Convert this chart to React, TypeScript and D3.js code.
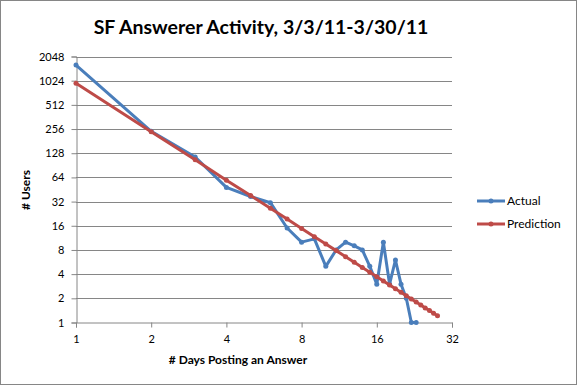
import { useEffect, useRef } from "react"
import * as d3 from "d3"

// days posting an answer
const actualDays = [1, 2, 3, 4, 5, 6, 7, 8, 9, 10, 11, 12, 13, 14, 15, 16, 17, 18, 19, 20, 21, 22, 23]
const actualUsers = [1600, 240, 115, 48, 37, 31, 15, 10, 11, 5, 8, 10, 9, 8, 5, 3, 10, 3, 6, 3, 2, 1, 1]

const predictionDays = [1, 2, 3, 4, 5, 6, 7, 8, 9, 10, 11, 12, 13, 14, 15, 16, 17, 18, 19, 20, 21, 22, 23, 24, 25, 26, 27, 28]
const predictionUsers = [
  950, 237, 106, 59, 38, 26.4, 19.4, 14.8, 11.7, 9.5, 7.85, 6.6, 5.62, 4.85,
  4.22, 3.71, 3.29, 2.93, 2.63, 2.38, 2.15, 1.96, 1.8, 1.65, 1.52, 1.41, 1.3, 1.21,
]

const xTicks = [1, 2, 4, 8, 16, 32]
const yTicks = [1, 2, 4, 8, 16, 32, 64, 128, 256, 512, 1024, 2048]

const title = "SF Answerer Activity, 3/3/11-3/30/11"
const xTitle = "# Days Posting an Answer"
const yTitle = "# Users"
const seriesNames = ["Actual", "Prediction"]
const seriesColors = ["#4a7ebb", "#be4b48"]

export default function App() {
  const svgRef = useRef<SVGSVGElement>(null)
  const width = 577
  const height = 385

  useEffect(() => {
    if (!svgRef.current) return
    const svg = d3.select(svgRef.current)
    svg.selectAll("*").remove()

    const font = "Lato, 'Open Sans', sans-serif"
    const x = d3.scaleLog().base(2).domain([1, 32]).range([76, 452])
    const y = d3.scaleLog().base(2).domain([1, 2048]).range([322.5, 56.5])

    // outer border
    svg.append("rect")
      .attr("x", 0.5).attr("y", 0.5)
      .attr("width", width - 1).attr("height", height - 1)
      .attr("fill", "#fff").attr("stroke", "#868686")

    svg.append("text")
      .attr("x", 261).attr("y", 34)
      .attr("text-anchor", "middle")
      .attr("font-family", font).attr("font-weight", "bold").attr("font-size", 19.5)
      .text(title)

    // gridlines
    svg.append("g").selectAll("line")
      .data(yTicks.slice(1))
      .enter().append("line")
      .attr("x1", x(1)).attr("x2", x(32))
      .attr("y1", (d: number) => Math.round(y(d)) + 0.5)
      .attr("y2", (d: number) => Math.round(y(d)) + 0.5)
      .attr("stroke", "#868686")

    // y axis
    const yAxis = d3.axisLeft(y).tickValues(yTicks).tickFormat((d: any) => `${d}`).tickSize(5).tickPadding(7)
    const gy = svg.append("g").attr("transform", `translate(${x(1) + 0.5},0)`).call(yAxis)
    gy.select(".domain").attr("stroke", "#868686")
    gy.selectAll(".tick line").attr("stroke", "#868686")
    gy.selectAll(".tick text").attr("font-family", font).attr("font-size", 11).attr("fill", "#000")

    // x axis
    const xAxis = d3.axisBottom(x).tickValues(xTicks).tickFormat((d: any) => `${d}`).tickSize(5).tickPadding(8)
    const gx = svg.append("g").attr("transform", `translate(0,${y(1)})`).call(xAxis)
    gx.select(".domain").attr("stroke", "#868686")
    gx.selectAll(".tick line").attr("stroke", "#868686")
    gx.selectAll(".tick text").attr("font-family", font).attr("font-size", 11).attr("fill", "#000")

    svg.append("text")
      .attr("x", 238).attr("y", 364)
      .attr("text-anchor", "middle")
      .attr("font-family", font).attr("font-weight", "bold").attr("font-size", 12)
      .text(xTitle)

    svg.append("text")
      .attr("transform", `translate(30,190) rotate(-90)`)
      .attr("text-anchor", "middle")
      .attr("font-family", font).attr("font-weight", "bold").attr("font-size", 12)
      .text(yTitle)

    const line = d3.line<[number, number]>()
      .x((d) => x(d[0]))
      .y((d) => y(d[1]))

    const series = [
      actualDays.map((d, i) => [d, actualUsers[i]] as [number, number]),
      predictionDays.map((d, i) => [d, predictionUsers[i]] as [number, number]),
    ]

    series.forEach((pts, si) => {
      svg.append("path")
        .datum(pts)
        .attr("d", line)
        .attr("fill", "none")
        .attr("stroke", seriesColors[si])
        .attr("stroke-width", 3)
        .attr("stroke-linejoin", "round")
      svg.append("g").selectAll("circle")
        .data(pts)
        .enter().append("circle")
        .attr("cx", (d: [number, number]) => x(d[0]))
        .attr("cy", (d: [number, number]) => y(d[1]))
        .attr("r", 2.5)
        .attr("fill", seriesColors[si])
    })

    // legend
    const legend = svg.append("g")
    seriesNames.forEach((name, i) => {
      const ly = 201 + i * 23
      legend.append("line")
        .attr("x1", 477).attr("x2", 505)
        .attr("y1", ly).attr("y2", ly)
        .attr("stroke", seriesColors[i]).attr("stroke-width", 3)
      legend.append("circle")
        .attr("cx", 491).attr("cy", ly).attr("r", 2.5)
        .attr("fill", seriesColors[i])
      legend.append("text")
        .attr("x", 507).attr("y", ly + 4)
        .attr("font-family", font).attr("font-size", 12)
        .text(name)
    })
  }, [])

  return (
    <svg
      ref={svgRef}
      width={width}
      height={height}
      style={{ position: "absolute", left: 0, top: 0 }}
    />
  )
}
